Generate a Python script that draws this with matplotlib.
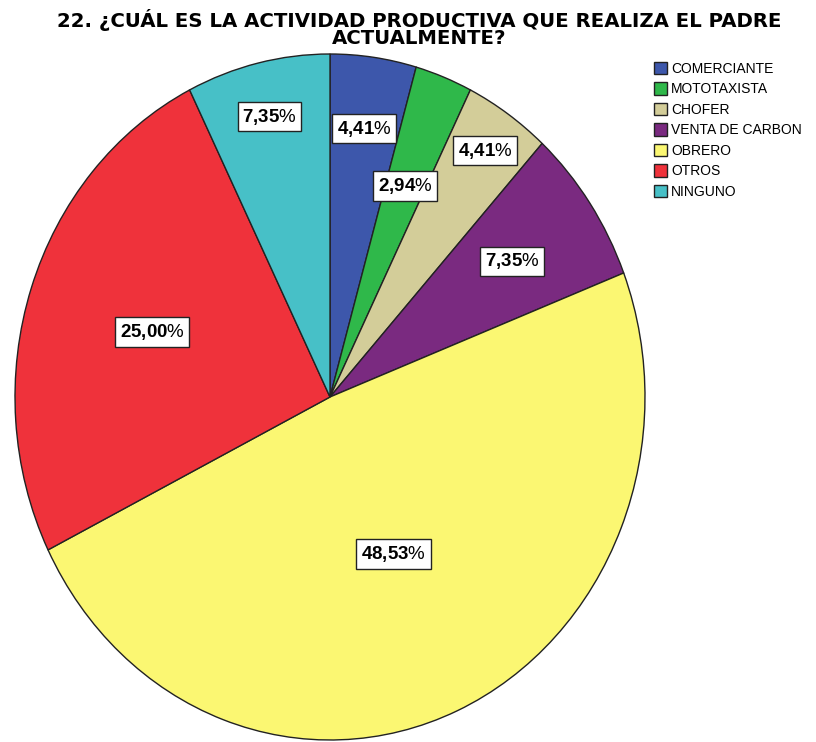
import numpy as np
import matplotlib.pyplot as plt

plt.rcParams['font.family'] = ['Liberation Sans', 'DejaVu Sans']
plt.rcParams['mathtext.fontset'] = 'custom'
plt.rcParams['mathtext.rm'] = 'Liberation Sans'
plt.rcParams['mathtext.bf'] = 'Liberation Sans:bold'

# Datos
categorias = ["COMERCIANTE", "MOTOTAXISTA", "CHOFER", "VENTA DE CARBON",
              "OBRERO", "OTROS", "NINGUNO"]
porcentajes = [4.41, 2.94, 4.41, 7.35, 48.53, 25.00, 7.35]
colores = ["#3D57AB", "#2FB84A", "#D3CD99", "#7A2A80",
           "#FBF772", "#EF323B", "#47C0C7"]
# distancia radial de cada etiqueta
dist_etiqueta = [0.79, 0.66, 0.87, 0.70, 0.50, 0.595, 0.84]

fig = plt.figure(figsize=(8.16, 7.42), dpi=100)
ax = fig.add_axes([15 / 816, 2 / 742, 630 / 816, 686 / 742])

wedges, _ = ax.pie(porcentajes, colors=colores, startangle=90,
                   counterclock=False,
                   wedgeprops=dict(edgecolor="#222222", linewidth=1.0))
ax.set_aspect("auto")
ax.set_xlim(-1, 1)
ax.set_ylim(-1, 1)

for w, p, d in zip(wedges, porcentajes, dist_etiqueta):
    ang = np.deg2rad((w.theta1 + w.theta2) / 2)
    txt = f"{p:.2f}".replace(".", "{,}")
    ax.text(d * np.cos(ang), d * np.sin(ang), r"$\mathbf{" + txt + "}$%",
            ha="center", va="center", fontsize=13.5,
            bbox=dict(boxstyle="square,pad=0.25", fc="white",
                      ec="#222222", lw=1.0))

fig.text(0.514, 1 - 9 / 742, "22. ¿CUÁL ES LA ACTIVIDAD PRODUCTIVA QUE REALIZA EL PADRE\nACTUALMENTE?",
         ha="center", va="top", fontsize=14.2, fontweight="bold",
         family="DejaVu Sans", linespacing=0.85)

fig.legend(wedges, categorias, loc="upper left",
           bbox_to_anchor=(648 / 816, 1 - 56 / 742), frameon=False,
           fontsize=10, handlelength=1.0, handleheight=1.0,
           handletextpad=0.25, labelspacing=0.47, borderaxespad=0)

fig.savefig("out.png", dpi=100)
